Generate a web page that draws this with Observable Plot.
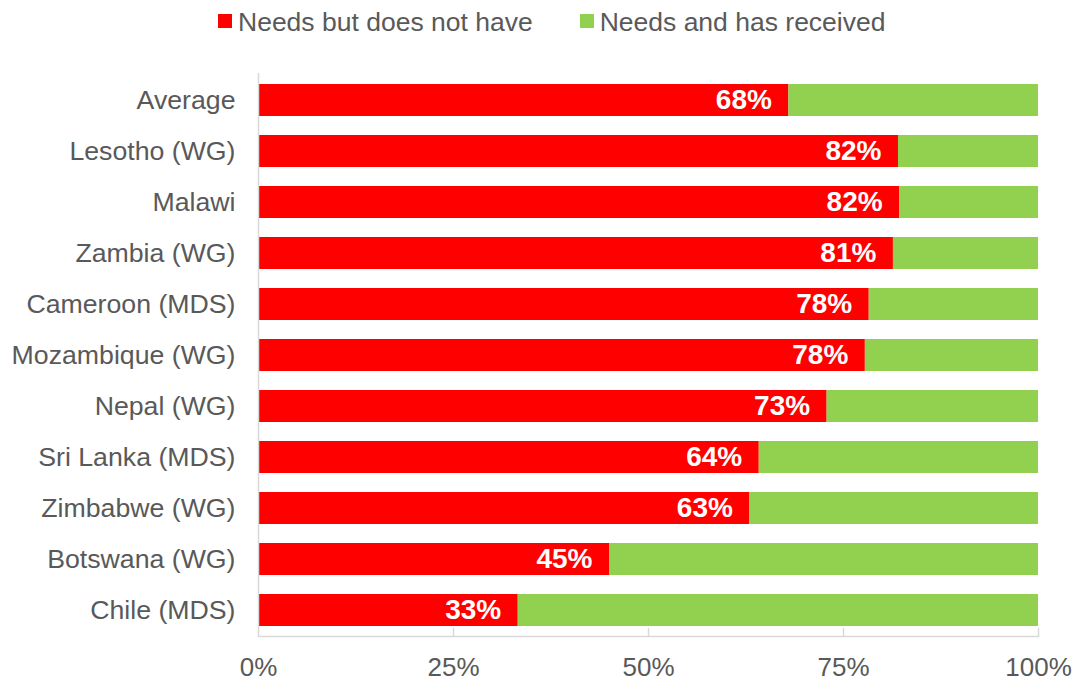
<!DOCTYPE html>
<html>
<head>
<meta charset="utf-8">
<script src="https://cdn.jsdelivr.net/npm/d3@7"></script>
<script src="https://cdn.jsdelivr.net/npm/@observablehq/plot@0.6"></script>
<style>
  html, body { margin: 0; padding: 0; background: #fff; }
  body { width: 1075px; height: 681px; overflow: hidden; font-family: "Liberation Sans", Arial, sans-serif; }
  #legend { height: 44px; display: flex; align-items: center; padding-left: 218px; box-sizing: border-box; color: #595959; font-size: 26.5px; }
  #legend .item { display: flex; align-items: center; }
  #legend .sw { width: 14px; height: 14px; margin-right: 6px; margin-top: -2px; }
  #legend .item + .item { margin-left: 47px; }
  svg { display: block; }
</style>
</head>
<body>
<div id="legend"></div>
<div id="chart"></div>
<script>
const categories = ["Average", "Lesotho (WG)", "Malawi", "Zambia (WG)", "Cameroon (MDS)", "Mozambique (WG)", "Nepal (WG)", "Sri Lanka (MDS)", "Zimbabwe (WG)", "Botswana (WG)", "Chile (MDS)"];
const needsNotHave = [0.680, 0.8205, 0.822, 0.814, 0.783, 0.778, 0.729, 0.642, 0.630, 0.450, 0.333];
const seriesNames = ["Needs but does not have", "Needs and has received"];
const seriesColors = ["#FF0000", "#92D050"];
const xTicks = [0, 0.25, 0.5, 0.75, 1];

const rows = [];
categories.forEach((c, i) => {
  rows.push({category: c, series: seriesNames[0], value: needsNotHave[i]});
  rows.push({category: c, series: seriesNames[1], value: 1 - needsNotHave[i]});
});
const labels = categories.map((c, i) => ({category: c, value: needsNotHave[i]}));

const legend = document.getElementById("legend");
seriesNames.forEach((s, i) => {
  const item = document.createElement("div");
  item.className = "item";
  item.innerHTML = `<span class="sw" style="background:${seriesColors[i]}"></span><span>${s}</span>`;
  legend.appendChild(item);
});

const gridGray = "#d9d9d9";
const chart = Plot.plot({
  width: 1075,
  height: 637,
  marginLeft: 258,
  marginRight: 37,
  marginTop: 29,
  marginBottom: 45,
  style: {fontFamily: "'Liberation Sans', Arial, sans-serif", color: "#595959", background: "#fff"},
  x: {domain: [0, 1], ticks: xTicks, tickFormat: d => Math.round(d * 100) + "%"},
  y: {domain: categories, paddingInner: 0.376, paddingOuter: 0.175, label: null},
  color: {domain: seriesNames, range: seriesColors},
  marks: [
    Plot.barX(rows, {y: "category", x: "value", fill: "series", order: seriesNames}),
    Plot.ruleX([0], {stroke: gridGray, strokeWidth: 1.5}),
    Plot.frame({anchor: "bottom", stroke: gridGray, strokeWidth: 1.5}),
    Plot.vector(xTicks.slice(1), {
      x: d => d, frameAnchor: "bottom", length: 8, anchor: "start", stroke: gridGray, strokeWidth: 1.5,
      shape: {draw(ctx, l) { ctx.moveTo(0, 0); ctx.lineTo(0, -l); }}
    }),
    Plot.text(labels, {
      y: "category", x: "value", text: d => Math.round(d.value * 100) + "%",
      textAnchor: "end", dx: -17, fill: "#fff", fontWeight: "bold", fontSize: 28
    }),
    Plot.axisY({tickSize: 0, tickPadding: 23, fontSize: 26.7, label: null, fill: "#595959"}),
    Plot.axisX({ticks: xTicks, tickSize: 0, tickPadding: 21, fontSize: 26, label: null, fill: "#595959", tickFormat: d => Math.round(d * 100) + "%"})
  ]
});
document.getElementById("chart").appendChild(chart);
</script>
</body>
</html>
